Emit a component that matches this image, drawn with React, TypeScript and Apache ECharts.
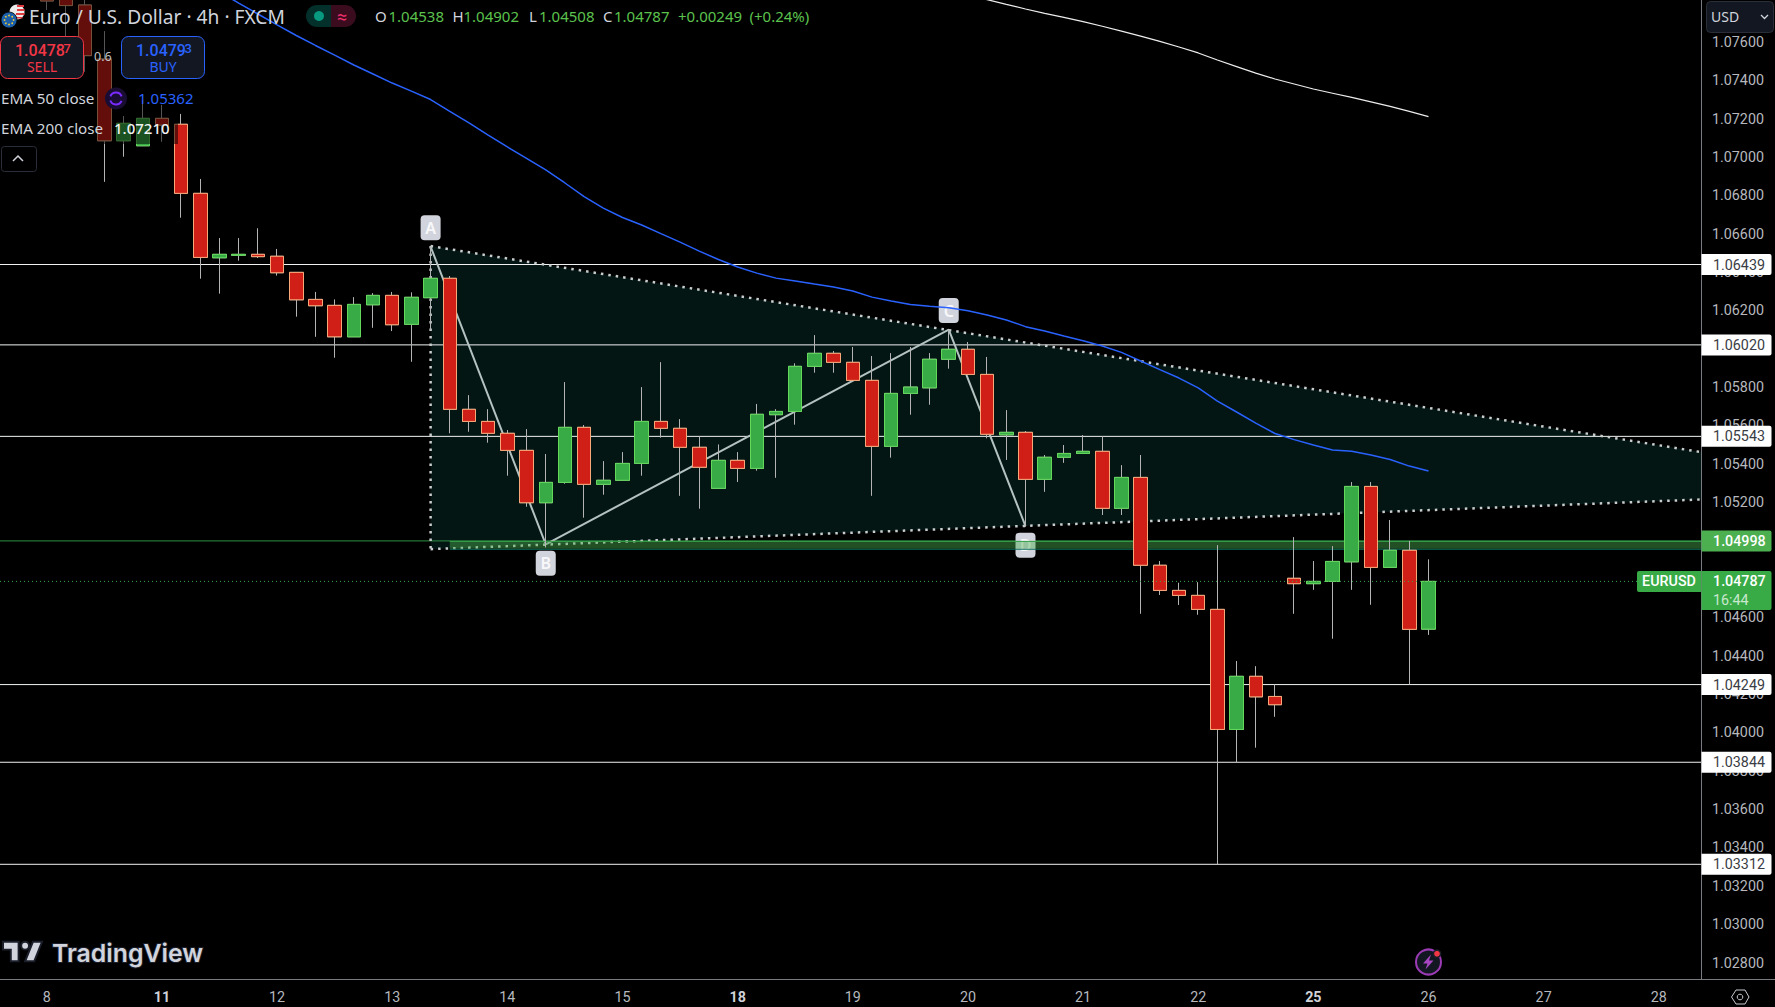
import React, { useEffect, useRef } from "react";
import * as echarts from "echarts";

const opens = [
  1.07922,1.07881,1.07792,1.07510,1.07084,1.07058,1.07201,1.07170,1.06810,1.06474,
  1.06487,1.06492,1.06482,1.06398,1.06257,1.06226,1.06062,1.06229,1.06278,1.06127,
  1.06266,1.06367,1.05684,1.05621,1.05559,1.05470,1.05197,1.05303,1.05590,1.05293,
  1.05314,1.05402,1.05621,1.05585,1.05486,1.05272,1.05418,1.05376,1.05656,1.05673,
  1.05908,1.05976,1.05929,1.05835,1.05491,1.05767,1.05796,1.05945,1.05997,1.05866,
  1.05551,1.05564,1.05319,1.05434,1.05454,1.05465,1.05168,1.05329,1.04871,1.04740,
  1.04714,1.04641,1.04015,1.04292,1.04187,1.04803,1.04775,1.04787,1.04889,1.05282,
  1.04860,1.04949,1.04538,
];
const closes = [
  1.07813,1.07789,1.07528,1.07084,1.07175,1.07201,1.07166,1.06810,1.06476,1.06492,
  1.06492,1.06480,1.06396,1.06255,1.06224,1.06062,1.06231,1.06278,1.06125,1.06268,
  1.06367,1.05684,1.05621,1.05559,1.05470,1.05197,1.05303,1.05590,1.05293,1.05314,
  1.05402,1.05621,1.05585,1.05486,1.05382,1.05418,1.05376,1.05658,1.05673,1.05908,
  1.05976,1.05929,1.05835,1.05491,1.05767,1.05800,1.05945,1.05997,1.05866,1.05554,
  1.05564,1.05319,1.05434,1.05454,1.05465,1.05168,1.05329,1.04871,1.04740,1.04714,
  1.04641,1.04015,1.04292,1.04185,1.04144,1.04775,1.04787,1.04891,1.05282,1.04860,
  1.04949,1.04537,1.04787,
];
const lows = [
  1.07766,1.07630,1.07443,1.06870,1.07001,1.07058,1.07079,1.06683,1.06365,1.06287,
  1.06459,1.06473,1.06381,1.06167,1.06062,1.05953,1.06062,1.06109,1.06092,1.05932,
  1.06097,1.05559,1.05567,1.05510,1.05338,1.05176,1.04964,1.05296,1.05119,1.05239,
  1.05314,1.05338,1.05536,1.05233,1.05166,1.05272,1.05305,1.05364,1.05327,1.05604,
  1.05875,1.05875,1.05835,1.05233,1.05432,1.05656,1.05708,1.05896,1.05866,1.05533,
  1.05420,1.05072,1.05254,1.05405,1.05454,1.05133,1.05133,1.04618,1.04716,1.04664,
  1.04613,1.03313,1.03843,1.03920,1.04081,1.04618,1.04743,1.04488,1.04743,1.04665,
  1.04860,1.04250,1.04508,
];
const highs = [
  1.07974,1.07912,1.07844,1.07656,1.07213,1.07297,1.07271,1.07224,1.06885,1.06577,
  1.06577,1.06628,1.06520,1.06398,1.06296,1.06257,1.06269,1.06290,1.06296,1.06294,
  1.06532,1.06379,1.05758,1.05685,1.05576,1.05581,1.05451,1.05826,1.05602,1.05414,
  1.05461,1.05800,1.05930,1.05633,1.05543,1.05501,1.05461,1.05712,1.05685,1.05924,
  1.06071,1.05988,1.06009,1.05962,1.05977,1.06009,1.05977,1.06097,1.06035,1.05957,
  1.05680,1.05571,1.05446,1.05498,1.05550,1.05545,1.05393,1.05446,1.04893,1.04780,
  1.04783,1.04976,1.04372,1.04345,1.04250,1.05018,1.04893,1.04971,1.05305,1.05305,
  1.05107,1.04998,1.04902,
];

const ema50Start = 9;
const ema50 = [
  1.07860,1.07802,1.07745,1.07688,1.07633,1.07581,1.07531,1.07479,1.07432,1.07385,1.07343,
  1.07299,1.07237,1.07177,1.07114,1.07052,1.06992,1.06932,1.06864,1.06793,1.06733,
  1.06684,1.06645,1.06600,1.06556,1.06509,1.06465,1.06426,1.06394,1.06368,1.06353,
  1.06337,1.06322,1.06301,1.06269,1.06249,1.06231,1.06222,1.06214,1.06198,1.06176,
  1.06150,1.06115,1.06092,1.06066,1.06042,1.06014,1.05981,1.05936,1.05891,1.05847,
  1.05796,1.05727,1.05670,1.05612,1.05558,1.05526,1.05498,1.05472,1.05465,1.05446,
  1.05422,1.05388,1.05362,
];
const ema200Start = 48;
const ema200 = [
  1.07841,1.07820,1.07795,1.07771,1.07748,1.07727,1.07705,1.07681,1.07656,1.07630,
  1.07602,1.07573,1.07542,1.07505,1.07471,1.07437,1.07406,1.07380,1.07354,1.07332,
  1.07310,1.07287,1.07263,1.07237,1.07210,
];

const dayTicks = [0, 6, 12, 18, 24, 30, 36, 42, 48, 54, 60, 66, 72, 78, 84];
const dayLabels = ["8", "11", "12", "13", "14", "15", "18", "19", "20", "21", "22", "25", "26", "27", "28"];
const boldDays = ["11", "18", "25"];
const priceTicks = [
  1.028, 1.03, 1.032, 1.034, 1.036, 1.038, 1.04, 1.042, 1.044, 1.046, 1.048, 1.05, 1.052,
  1.054, 1.056, 1.058, 1.06, 1.062, 1.064, 1.066, 1.068, 1.07, 1.072, 1.074, 1.076,
];
const levels = [1.06439, 1.0602, 1.05543, 1.04249, 1.03844, 1.03312];
const zoneTop = 1.04998;
const zoneBottom = 1.04957;
const lastPrice = 1.04787;
const pivotNames = ["A", "B", "C", "D"];
const pivotK = [20, 26, 47, 51];
const pivotP = [1.06532, 1.0498, 1.061, 1.05075];
const upperEdge = [[20, 1.06535], [86.2, 1.05461]];
const lowerEdge = [[20, 1.04955], [86.2, 1.05214]];
const zoneStartK = 21;

const X_MIN = -2.439;
const X_MAX = 86.2;
const Y_MAX = 1.07818;
const Y_MIN = 1.02714;
const FONT = "Roboto, 'Noto Sans', sans-serif";
const LEGEND_FONT = "'Noto Sans', Roboto, sans-serif";

const RED = "#CF1F16";
const RED_EDGE = "#F8A878";
const GREEN = "#38AB47";
const GREEN_EDGE = "#63D85A";
const WICK = "#B4B4B4";
const AXIS_TEXT = "#B6B8BE";
const LEGEND_TEXT = "#D1D4DC";

echarts.graphic.registerShape(
  "tvLogo",
  echarts.graphic.extendPath("M14 6H2v6h6v9h6V6Zm12 15h-7l6-15h7l-6 15Zm-7-9a3 3 0 1 0 0-6 3 3 0 0 0 0 6Z", {}) as any
);

function txt(x: number, y: number, text: string, fill: string, size: number, extra: any = {}) {
  return {
    type: "text",
    z: 110,
    x,
    y,
    silent: true,
    style: {
      text,
      fill,
      font: `${extra.weight || 400} ${size}px ${extra.family || LEGEND_FONT}`,
      textAlign: extra.align || "left",
      textVerticalAlign: "middle",
      ...(extra.stroke ? { stroke: extra.stroke, lineWidth: extra.lineWidth || 3 } : {}),
    },
  };
}

function buildGraphics() {
  const g: any[] = [];
  const push = (o: any) => g.push({ z: 110, silent: true, ...o });
  // dimming backdrop of the legend
  push({ type: "rect", z: 100, shape: { x: 0, y: 0, width: 178, height: 144 }, style: { fill: "rgba(0,0,0,0.52)" } });
  // flags
  push({ type: "circle", shape: { cx: 17, cy: 12, r: 7.5 }, style: { fill: "#ECECEC" } });
  push({ type: "rect", shape: { x: 17, y: 5, width: 7, height: 2 }, style: { fill: "#E03A3E" } });
  push({ type: "rect", shape: { x: 17, y: 9, width: 7.5, height: 2 }, style: { fill: "#E03A3E" } });
  push({ type: "rect", shape: { x: 16, y: 13, width: 8.5, height: 2 }, style: { fill: "#E03A3E" } });
  push({ type: "rect", shape: { x: 14, y: 17, width: 8.5, height: 1.5 }, style: { fill: "#E03A3E" } });
  push({ type: "circle", shape: { cx: 9, cy: 20, r: 8 }, style: { fill: "#1B5FAA", stroke: "#000", lineWidth: 0.8 } });
  for (let i = 0; i < 8; i++) {
    const a = (i * Math.PI) / 4;
    push({ type: "circle", shape: { cx: 9 + 4.5 * Math.cos(a), cy: 20 + 4.5 * Math.sin(a), r: 0.9 }, style: { fill: "#E8C93A" } });
  }
  g.push(txt(29, 16, "Euro / U.S. Dollar · 4h · FXCM", LEGEND_TEXT, 19.2));
  // status pill
  push({ type: "rect", shape: { x: 306, y: 5, width: 25, height: 22, r: [11, 0, 0, 11] }, style: { fill: "#04302B" } });
  push({ type: "rect", shape: { x: 331, y: 5, width: 25, height: 22, r: [0, 11, 11, 0] }, style: { fill: "#3A0C1E" } });
  push({ type: "circle", shape: { cx: 319, cy: 16, r: 5 }, style: { fill: "#089981" } });
  g.push(txt(342, 16, "≈", "#F0306E", 18, { align: "center" }));
  // OHLC row
  const ohlc: [number, string, string, number][] = [
    [375, "O", "1.04538", 13.5],
    [452.5, "H", "1.04902", 11],
    [529, "L", "1.04508", 10],
    [603, "C", "1.04787", 11],
  ];
  ohlc.forEach(([x, a, b, dx]) => {
    g.push(txt(x, 16, a, LEGEND_TEXT, 15));
    g.push(txt(x + dx, 16, b, "#5CC24E", 15));
  });
  g.push(txt(678, 16, "+0.00249", "#5CC24E", 15));
  g.push(txt(749.5, 16, "(+0.24%)", "#5CC24E", 15));
  // sell / buy
  push({ type: "rect", shape: { x: 0.5, y: 36.5, width: 83, height: 42, r: 7 }, style: { fill: "#131722", stroke: "#F23645", lineWidth: 1 } });
  push({ type: "rect", shape: { x: 121.5, y: 36.5, width: 83, height: 42, r: 7 }, style: { fill: "#131722", stroke: "#2962FF", lineWidth: 1 } });
  g.push(txt(15, 50, "1.0478", "#F23645", 16, { weight: 500, family: FONT }));
  g.push(txt(63.5, 48, "7", "#F23645", 13, { weight: 500, family: FONT }));
  g.push(txt(42, 66, "SELL", "#F23645", 14, { align: "center" }));
  g.push(txt(136, 50, "1.0479", "#2962FF", 16, { weight: 500, family: FONT }));
  g.push(txt(184.5, 48, "3", "#2962FF", 13, { weight: 500, family: FONT }));
  g.push(txt(163, 66, "BUY", "#2962FF", 14, { align: "center" }));
  g.push(txt(94, 56, "0.6", "#C4C4C4", 12.5));
  // indicator rows
  g.push(txt(1, 97.5, "EMA 50 close", LEGEND_TEXT, 15.2));
  push({ type: "circle", shape: { cx: 116, cy: 98.5, r: 11 }, style: { fill: "#1A0D33" } });
  push({ type: "arc", shape: { cx: 116, cy: 98.5, r: 6, startAngle: 3.5, endAngle: 5.9 }, style: { stroke: "#7A2BFF", lineWidth: 2, fill: "none" } });
  push({ type: "arc", shape: { cx: 116, cy: 98.5, r: 6, startAngle: 0.4, endAngle: 2.8 }, style: { stroke: "#7A2BFF", lineWidth: 2, fill: "none" } });
  g.push(txt(138, 97.5, "1.05362", "#2962FF", 15));
  g.push(txt(1, 127.5, "EMA 200 close", LEGEND_TEXT, 15.2));
  g.push(txt(114, 127.5, "1.07210", "#F2F2F2", 15, { weight: 500 }));
  push({ type: "rect", shape: { x: 1.5, y: 146.5, width: 35, height: 25, r: 3 }, style: { fill: "#000", stroke: "#2A2E39", lineWidth: 1 } });
  push({ type: "polyline", shape: { points: [[13, 161], [18, 156], [23, 161]] }, style: { stroke: LEGEND_TEXT, lineWidth: 1.5, fill: "none" } });
  // usd button
  push({ type: "rect", shape: { x: 1706.5, y: 1.5, width: 67, height: 31, r: 4 }, style: { fill: "#131722", stroke: "#2A2E39", lineWidth: 1 } });
  g.push(txt(1711, 16.5, "USD", LEGEND_TEXT, 14));
  push({ type: "polyline", shape: { points: [[1761, 15], [1764.5, 18.5], [1768, 15]] }, style: { stroke: LEGEND_TEXT, lineWidth: 1.3, fill: "none" } });
  // bottom rule & settings
  push({ type: "line", shape: { x1: 0, y1: 979.5, x2: 1775, y2: 979.5 }, style: { stroke: "#787B80", lineWidth: 1 } });
  push({
    type: "polygon",
    shape: { points: [[1731.5, 997], [1736, 990], [1745, 990], [1749, 997], [1745, 1004], [1736, 1004]] },
    style: { fill: "none", stroke: "#C8CAD0", lineWidth: 1 },
  });
  push({ type: "circle", shape: { cx: 1740, cy: 997, r: 2.8 }, style: { fill: "none", stroke: "#C8CAD0", lineWidth: 1 } });
  // watermark
  push({
    type: "tvLogo",
    x: 0.4,
    y: 934,
    scaleX: 1.3,
    scaleY: 1.3,
    style: { fill: LEGEND_TEXT, stroke: "#1B1F2B", lineWidth: 1.5 },
  });
  g.push(txt(52, 952.5, "TradingView", LEGEND_TEXT, 24.8, { weight: 600, family: "Inter, Roboto, sans-serif", stroke: "#1B1F2B", lineWidth: 2 }));
  // lightning badge
  push({ type: "circle", shape: { cx: 1428.5, cy: 962, r: 12.5 }, style: { fill: "#131722", stroke: "#9C3BB5", lineWidth: 2 } });
  push({
    type: "polygon",
    shape: { points: [[1431, 954.5], [1423, 963.5], [1427.5, 963.5], [1425.5, 969.5], [1433.5, 960.5], [1429, 960.5]] },
    style: { fill: "#A846C2" },
  });
  push({ type: "circle", shape: { cx: 1437, cy: 953.7, r: 3.6 }, style: { fill: "#F23645", stroke: "#1C1E28", lineWidth: 1.5 } });
  return g;
}

function lineSeries(data: any[], color: string, width: number, z: number, type: any = "solid", extra: any = {}) {
  return {
    type: "line",
    data,
    z,
    showSymbol: false,
    symbol: "none",
    silent: true,
    lineStyle: { color, width, type, ...extra },
  };
}

function buildOption() {
  const candles = opens.map((o, k) => [k, o, closes[k], lows[k], highs[k]]);
  const bodies = opens.map((o, k) => [k, o, closes[k], Math.min(o, closes[k]), Math.max(o, closes[k])]);
  const series: any[] = [];

  // wedge fill
  series.push({
    type: "custom",
    z: 1,
    silent: true,
    data: [0],
    renderItem: (_p: any, api: any) => ({
      type: "polygon",
      shape: {
        points: [upperEdge[0], upperEdge[1], lowerEdge[1], lowerEdge[0]].map((c) => api.coord(c)),
      },
      style: { fill: "#031614" },
    }),
  });

  levels.forEach((p) => series.push(lineSeries([[X_MIN, p], [X_MAX, p]], "#F0F2F2", 1, 2)));
  series.push(lineSeries([[X_MIN, zoneTop], [X_MAX, zoneTop]], "#2E8F42", 1, 2));

  series.push(lineSeries(upperEdge, "#C9CDCD", 2.5, 3, [2.5, 5]));
  series.push(lineSeries(lowerEdge, "#C9CDCD", 2.5, 3, [2.5, 5]));
  series.push(lineSeries([upperEdge[0], lowerEdge[0]], "#C9CDCD", 2.5, 3, [2.5, 5]));
  series.push(lineSeries(pivotK.map((k, i) => [k, pivotP[i]]), "#B4C2C0", 2, 3));

  // pivot pills
  series.push({
    type: "custom",
    z: 3,
    silent: true,
    data: pivotK.map((k, i) => [k, pivotP[i]]),
    renderItem: (p: any, api: any) => {
      const c = api.coord([api.value(0), api.value(1)]);
      const i = p.dataIndex;
      const cy = c[1] + (i % 2 === 0 ? -19 : 19);
      return {
        type: "group",
        children: [
          { type: "rect", shape: { x: c[0] - 10, y: cy - 12.5, width: 20, height: 25, r: 4 }, style: { fill: "#D1D4DC" } },
          {
            type: "text",
            style: {
              text: pivotNames[i],
              x: c[0],
              y: cy,
              fill: "#F8F8FA",
              font: `600 16px ${LEGEND_FONT}`,
              textAlign: "center",
              textVerticalAlign: "middle",
            },
          },
        ],
      };
    },
  });

  // support zone
  series.push({
    type: "custom",
    z: 4,
    silent: true,
    data: [0],
    renderItem: (_p: any, api: any) => {
      const a = api.coord([zoneStartK, zoneTop]);
      const b = api.coord([X_MAX, zoneBottom]);
      return {
        type: "group",
        children: [
          { type: "rect", shape: { x: a[0], y: a[1], width: b[0] - a[0], height: b[1] - a[1] }, style: { fill: "rgba(76,175,80,0.45)" } },
          { type: "line", shape: { x1: a[0], y1: a[1] + 0.5, x2: b[0], y2: a[1] + 0.5 }, style: { stroke: "#35A048", lineWidth: 1 } },
          { type: "line", shape: { x1: a[0], y1: b[1] + 0.5, x2: b[0], y2: b[1] + 0.5 }, style: { stroke: "#0E6E5A", lineWidth: 1 } },
        ],
      };
    },
  });

  series.push({
    type: "candlestick",
    z: 5,
    silent: true,
    barWidth: 14,
    data: candles,
    itemStyle: { color: WICK, color0: WICK, borderColor: WICK, borderColor0: WICK, borderWidth: 1 },
  });
  series.push({
    type: "candlestick",
    z: 6,
    silent: true,
    barWidth: 14,
    data: bodies,
    itemStyle: { color: GREEN, color0: RED, borderColor: GREEN_EDGE, borderColor0: RED_EDGE, borderWidth: 1 },
  });

  series.push(lineSeries(ema50.map((v, i) => [ema50Start + i, v]), "#2962FF", 1.5, 7));
  series.push(lineSeries(ema200.map((v, i) => [ema200Start + i, v]), "#EDEDED", 1.2, 7));
  series.push(lineSeries([[X_MIN, lastPrice], [X_MAX, lastPrice]], "#3BA84E", 1, 8, [1, 3]));

  // price tags
  series.push({
    type: "custom",
    z: 20,
    silent: true,
    data: levels.map((p) => [X_MAX, p]),
    renderItem: (p: any, api: any) => {
      const c = api.coord([api.value(0), api.value(1)]);
      return {
        type: "group",
        children: [
          { type: "rect", shape: { x: c[0] + 0.5, y: c[1] - 10.5, width: 70, height: 21, r: [0, 2, 2, 0] }, style: { fill: "#FFFFFF" } },
          {
            type: "text",
            style: {
              text: levels[p.dataIndex].toFixed(5),
              x: c[0] + 12,
              y: c[1],
              fill: "#3A3D45",
              font: `400 14.3px ${FONT}`,
              textAlign: "left",
              textVerticalAlign: "middle",
            },
          },
        ],
      };
    },
  });
  series.push({
    type: "custom",
    z: 20,
    silent: true,
    data: [[X_MAX, zoneTop]],
    renderItem: (_p: any, api: any) => {
      const c = api.coord([api.value(0), api.value(1)]);
      return {
        type: "group",
        children: [
          { type: "rect", shape: { x: c[0] + 0.5, y: c[1] - 10.5, width: 70, height: 21, r: [0, 2, 2, 0] }, style: { fill: "#4CAF50" } },
          {
            type: "text",
            style: {
              text: zoneTop.toFixed(5),
              x: c[0] + 12,
              y: c[1],
              fill: "#FFFFFF",
              font: `500 14.3px ${FONT}`,
              textAlign: "left",
              textVerticalAlign: "middle",
            },
          },
        ],
      };
    },
  });
  series.push({
    type: "custom",
    z: 20,
    silent: true,
    data: [[X_MAX, lastPrice]],
    renderItem: (_p: any, api: any) => {
      const c = api.coord([api.value(0), api.value(1)]);
      const t = (text: string, x: number, y: number, fill: string, align: string, w = 500) => ({
        type: "text",
        style: { text, x, y, fill, font: `${w} 14.3px ${FONT}`, textAlign: align, textVerticalAlign: "middle" },
      });
      return {
        type: "group",
        children: [
          { type: "rect", shape: { x: c[0] - 64, y: c[1] - 10.5, width: 64, height: 21, r: [2, 0, 0, 2] }, style: { fill: GREEN } },
          { type: "rect", shape: { x: c[0] + 0.5, y: c[1] - 10.5, width: 70, height: 39, r: [0, 2, 2, 0] }, style: { fill: GREEN } },
          t("EURUSD", c[0] - 32, c[1], "#FFFFFF", "center"),
          t(lastPrice.toFixed(5), c[0] + 12, c[1], "#FFFFFF", "left"),
          t("16:44", c[0] + 12, c[1] + 18.5, "#C9E8CD", "left", 400),
        ],
      };
    },
  });

  return {
    animation: false,
    backgroundColor: "#000000",
    grid: { left: 0, right: 74, top: 0, height: 979 },
    xAxis: {
      type: "value",
      min: X_MIN,
      max: X_MAX,
      splitLine: { show: false },
      axisLine: { show: false },
      axisTick: { show: false, customValues: dayTicks },
      axisLabel: {
        customValues: dayTicks,
        margin: 11,
        color: AXIS_TEXT,
        fontSize: 14.3,
        fontFamily: FONT,
        formatter: (v: number) => {
          const s = dayLabels[dayTicks.indexOf(Math.round(v))] ?? "";
          return boldDays.includes(s) ? `{b|${s}}` : s;
        },
        rich: { b: { fontWeight: 700, fontSize: 14.3, color: "#D0D2D8", fontFamily: FONT } },
      },
    },
    yAxis: {
      type: "value",
      position: "right",
      min: Y_MIN,
      max: Y_MAX,
      splitLine: { show: false },
      axisLine: { show: true, onZero: false, lineStyle: { color: "#787B80", width: 1 } },
      axisTick: { show: false, customValues: priceTicks },
      axisLabel: {
        customValues: priceTicks,
        margin: 11,
        color: AXIS_TEXT,
        fontSize: 14.3,
        fontFamily: FONT,
        formatter: (v: number) => v.toFixed(5),
      },
    },
    graphic: { elements: buildGraphics() },
    series,
  };
}

export default function App() {
  const ref = useRef<HTMLDivElement>(null);
  useEffect(() => {
    document.body.style.margin = "0";
    document.body.style.background = "#000";
    const chart = echarts.init(ref.current!, null, { renderer: "svg" });
    chart.setOption(buildOption() as any);
    return () => chart.dispose();
  }, []);
  return <div ref={ref} style={{ width: 1775, height: 1007 }} />;
}
